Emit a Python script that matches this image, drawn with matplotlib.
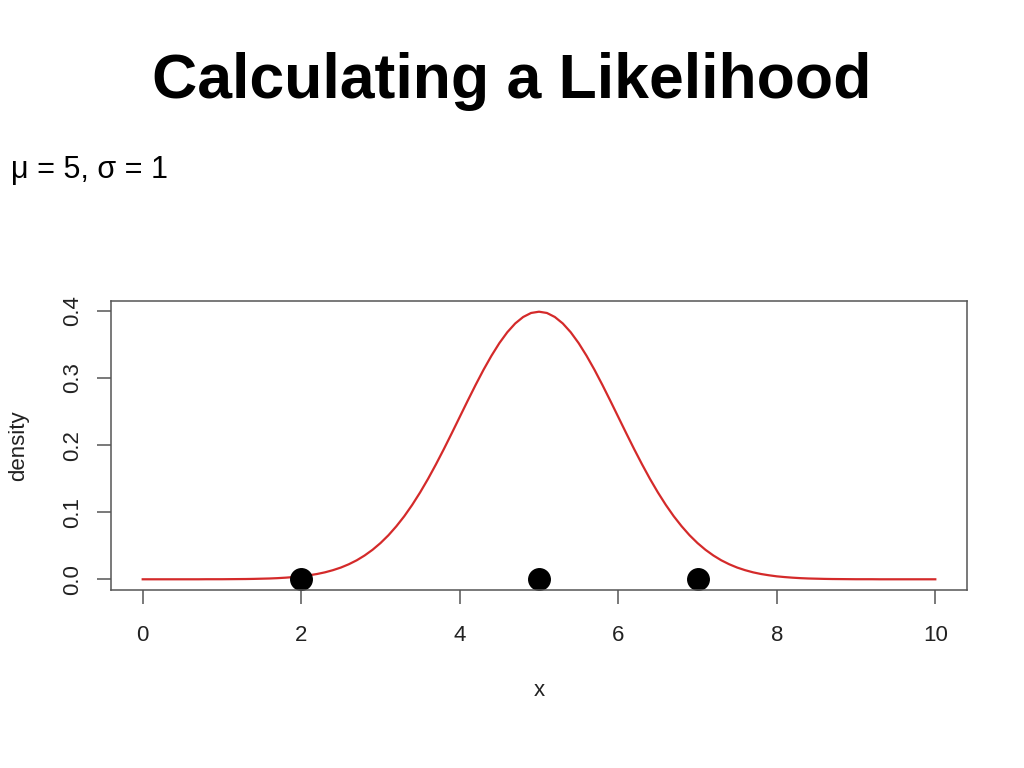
import matplotlib
matplotlib.use("Agg")
import matplotlib.pyplot as plt

# ---- data ----
title = "Calculating a Likelihood"
subtitle = "\u03bc = 5, \u03c3 = 1"
curve_x = [0.0, 0.1, 0.2, 0.3, 0.4, 0.5, 0.6, 0.7, 0.8, 0.9,
           1.0, 1.1, 1.2, 1.3, 1.4, 1.5, 1.6, 1.7, 1.8, 1.9,
           2.0, 2.1, 2.2, 2.3, 2.4, 2.5, 2.6, 2.7, 2.8, 2.9,
           3.0, 3.1, 3.2, 3.3, 3.4, 3.5, 3.6, 3.7, 3.8, 3.9,
           4.0, 4.1, 4.2, 4.3, 4.4, 4.5, 4.6, 4.7, 4.8, 4.9,
           5.0, 5.1, 5.2, 5.3, 5.4, 5.5, 5.6, 5.7, 5.8, 5.9,
           6.0, 6.1, 6.2, 6.3, 6.4, 6.5, 6.6, 6.7, 6.8, 6.9,
           7.0, 7.1, 7.2, 7.3, 7.4, 7.5, 7.6, 7.7, 7.8, 7.9,
           8.0, 8.1, 8.2, 8.3, 8.4, 8.5, 8.6, 8.7, 8.8, 8.9,
           9.0, 9.1, 9.2, 9.3, 9.4, 9.5, 9.6, 9.7, 9.8, 9.9,
           10.0]
curve_y = [0.0000, 0.0000, 0.0000, 0.0000, 0.0000, 0.0000, 0.0000, 0.0000, 0.0001, 0.0001,
           0.0001, 0.0002, 0.0003, 0.0004, 0.0006, 0.0009, 0.0012, 0.0017, 0.0024, 0.0033,
           0.0044, 0.0060, 0.0079, 0.0104, 0.0136, 0.0175, 0.0224, 0.0283, 0.0355, 0.0440,
           0.0540, 0.0656, 0.0790, 0.0940, 0.1109, 0.1295, 0.1497, 0.1714, 0.1942, 0.2179,
           0.2420, 0.2661, 0.2897, 0.3123, 0.3332, 0.3521, 0.3683, 0.3814, 0.3910, 0.3970,
           0.3989, 0.3970, 0.3910, 0.3814, 0.3683, 0.3521, 0.3332, 0.3123, 0.2897, 0.2661,
           0.2420, 0.2179, 0.1942, 0.1714, 0.1497, 0.1295, 0.1109, 0.0940, 0.0790, 0.0656,
           0.0540, 0.0440, 0.0355, 0.0283, 0.0224, 0.0175, 0.0136, 0.0104, 0.0079, 0.0060,
           0.0044, 0.0033, 0.0024, 0.0017, 0.0012, 0.0009, 0.0006, 0.0004, 0.0003, 0.0002,
           0.0001, 0.0001, 0.0001, 0.0000, 0.0000, 0.0000, 0.0000, 0.0000, 0.0000, 0.0000,
           0.0000]
obs_x = [2, 5, 7]
obs_y = [0, 0, 0]
xticks = [0, 2, 4, 6, 8, 10]
yticks = [0.0, 0.1, 0.2, 0.3, 0.4]
ytick_labels = ["0.0", "0.1", "0.2", "0.3", "0.4"]

plt.rcParams['font.family'] = ['Liberation Sans', 'DejaVu Sans']

fig = plt.figure(figsize=(10.24, 7.68), dpi=100)
fig.patch.set_facecolor('white')

fig.text(0.4995, 1 - 98 / 768, title, ha='center', va='baseline',
         fontsize=45, fontweight='bold')

fig.text(11 / 1024, 1 - 178 / 768, subtitle, ha='left', va='baseline',
         fontsize=22)

ax = fig.add_axes([111 / 1024, 1 - 590 / 768, 856 / 1024, 289 / 768])
ax.plot(curve_x, curve_y, color='#d42a2a', lw=1.6)
ax.plot(obs_x, obs_y, 'o', color='black', markersize=15.5)

ax.set_xlim(-0.4, 10.4)
ax.set_ylim(-0.01596, 0.41485)
ax.set_xticks(xticks)
ax.set_xticklabels([str(v) for v in xticks])
ax.set_yticks(yticks)
ax.set_yticklabels(ytick_labels, rotation=90, va='center')

for s in ax.spines.values():
    s.set_color('#555555')
    s.set_linewidth(1.1)

ax.tick_params(axis='both', direction='out', length=10, width=1.1,
               color='#555555', labelsize=16, labelcolor='#222222')
ax.tick_params(axis='x', pad=15)
ax.tick_params(axis='y', pad=10)

ax.set_xlabel('x', fontsize=16, color='#222222', labelpad=25)
ax.set_ylabel('density', fontsize=16, color='#222222', labelpad=24)

fig.savefig('out.png', dpi=100, facecolor='white')
